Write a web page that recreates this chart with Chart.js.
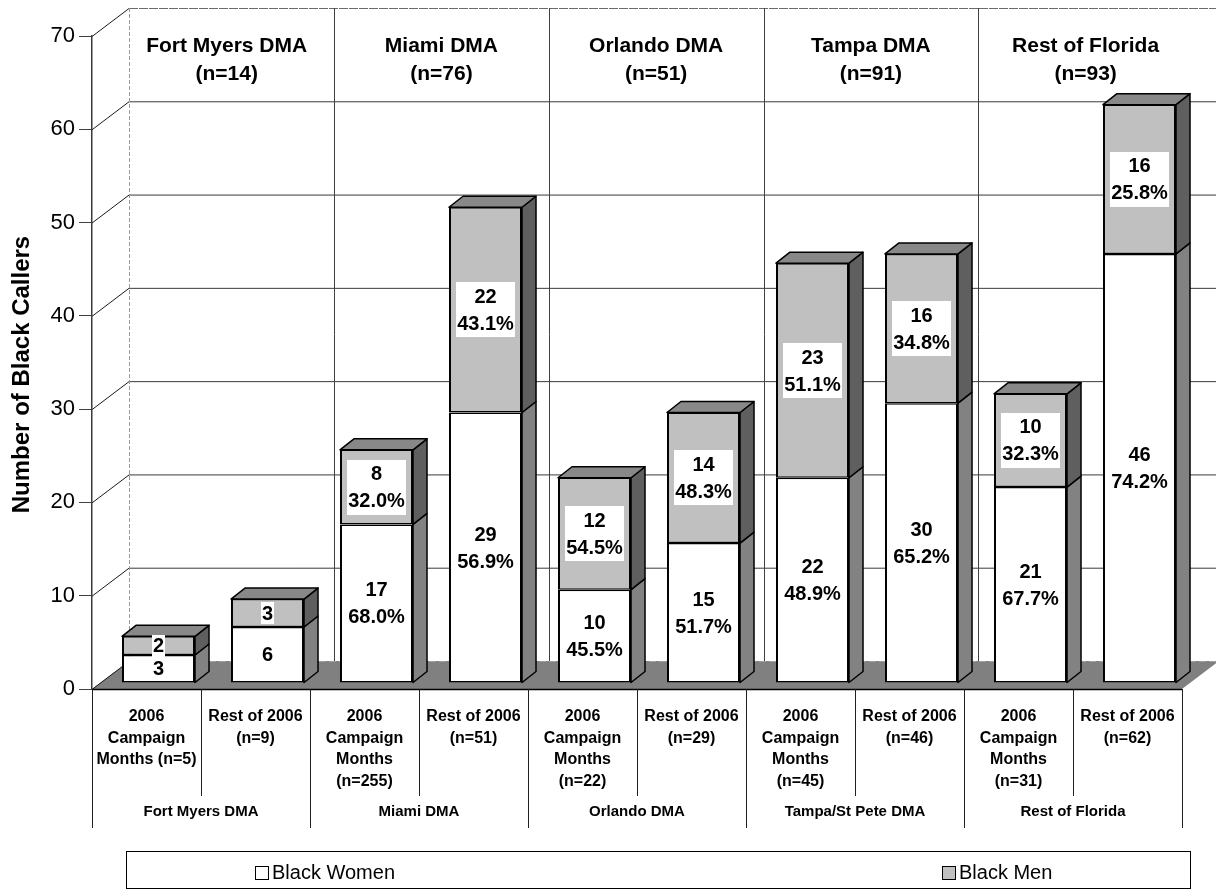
<!DOCTYPE html>
<html>
<head>
<meta charset="utf-8">
<title>Black Callers by DMA</title>
<script src="https://cdn.jsdelivr.net/npm/chart.js@4.4.1/dist/chart.umd.min.js"></script>
<style>
  html, body { margin: 0; padding: 0; background: #ffffff; }
  #wrap { width: 1216px; height: 890px; position: relative; }
</style>
</head>
<body>
<div id="wrap"><canvas id="chart"></canvas></div>
<script>
// ---- data ----
const categories = [
  ['2006', 'Campaign', 'Months (n=5)'], ['Rest of 2006', '(n=9)'],
  ['2006', 'Campaign', 'Months', '(n=255)'], ['Rest of 2006', '(n=51)'],
  ['2006', 'Campaign', 'Months', '(n=22)'], ['Rest of 2006', '(n=29)'],
  ['2006', 'Campaign', 'Months', '(n=45)'], ['Rest of 2006', '(n=46)'],
  ['2006', 'Campaign', 'Months', '(n=31)'], ['Rest of 2006', '(n=62)']
];
const groupNames = ['Fort Myers DMA', 'Miami DMA', 'Orlando DMA', 'Tampa/St Pete DMA', 'Rest of Florida'];
const regionHeaders = [
  ['Fort Myers DMA', '(n=14)'], ['Miami DMA', '(n=76)'], ['Orlando DMA', '(n=51)'],
  ['Tampa DMA', '(n=91)'], ['Rest of Florida', '(n=93)']
];
const blackWomen = [3, 6, 17, 29, 10, 15, 22, 30, 21, 46];
const blackMen   = [2, 3, 8, 22, 12, 14, 23, 16, 10, 16];
const showPercent = [false, false, true, true, true, true, true, true, true, true];
const seriesNames = ['Black Women', 'Black Men'];
const yMin = 0, yMax = 70, yStep = 10;
const yTitle = 'Number of Black Callers';

// ---- drawing constants ----
const FONT = '"Liberation Sans", Arial, Helvetica, sans-serif';
const WALL = { dx: 37, dy: -28 };        // floor depth: front edge -> back wall
const BAR_SHIFT = { dx: 12, dy: -6 };    // bar front faces sit slightly behind the floor edge
const BAR_DEPTH = { dx: 14, dy: -11 };   // bar side / top face depth
const FRONT_COLORS = ['#ffffff', '#c0c0c0'];
const SIDE_COLORS = ['#828282', '#5f5f5f'];
const TOP_COLOR = '#888888';

function line(ctx, x1, y1, x2, y2) {
  ctx.beginPath(); ctx.moveTo(x1, y1); ctx.lineTo(x2, y2); ctx.stroke();
}
function poly(ctx, pts, fill) {
  ctx.beginPath();
  ctx.moveTo(pts[0][0], pts[0][1]);
  for (let k = 1; k < pts.length; k++) ctx.lineTo(pts[k][0], pts[k][1]);
  ctx.closePath();
  ctx.fillStyle = fill; ctx.fill();
  ctx.stroke();
}
// slot boundary on the front edge for category index i (0..n)
function slotEdge(xs, i, n) {
  const half = (xs.getPixelForValue(1) - xs.getPixelForValue(0)) / 2;
  return i < n ? xs.getPixelForValue(i) - half : xs.getPixelForValue(n - 1) + half;
}
// projection of front-edge x positions onto the back wall for the group dividers
function backWallX(xFront) { return 28.7 + 0.985 * xFront; }

// floor, back wall, side-wall grid and region headers
const scenePlugin = {
  id: 'scene3d',
  beforeDraw(chart) {
    const { ctx, chartArea: a, scales: { x: xs, y: ys } } = chart;
    const n = chart.data.labels.length;
    const perGroup = n / groupNames.length;
    ctx.save();
    // floor
    ctx.fillStyle = '#808080';
    ctx.beginPath();
    ctx.moveTo(a.left, a.bottom); ctx.lineTo(a.right, a.bottom);
    ctx.lineTo(a.right + WALL.dx, a.bottom + WALL.dy);
    ctx.lineTo(a.left + WALL.dx, a.bottom + WALL.dy);
    ctx.closePath(); ctx.fill();

    // gridlines on side wall and back wall
    ys.ticks.forEach(t => {
      const yf = ys.getPixelForValue(t.value);
      const yb = yf + WALL.dy;
      ctx.setLineDash([]);
      ctx.strokeStyle = '#1a1a1a'; ctx.lineWidth = 1;
      line(ctx, a.left, yf + 0.5, a.left + WALL.dx, yb + 0.5);
      if (t.value === yMin) {
        ctx.strokeStyle = '#a0a0a0'; ctx.setLineDash([7, 3]);
      } else if (t.value === yMax) {
        ctx.strokeStyle = '#6a6a6a'; ctx.setLineDash([9, 1]);
      } else {
        ctx.strokeStyle = '#3a3a3a';
      }
      line(ctx, a.left + WALL.dx, yb + 0.5, a.right + WALL.dx, yb + 0.5);
    });
    // back wall left edge
    ctx.setLineDash([4, 2]); ctx.strokeStyle = '#9a9a9a';
    line(ctx, a.left + WALL.dx + 0.5, a.top + WALL.dy, a.left + WALL.dx + 0.5, a.bottom + WALL.dy);
    // group dividers on the back wall
    ctx.setLineDash([]); ctx.strokeStyle = '#404040';
    for (let g = 1; g < groupNames.length; g++) {
      const bx = Math.round(backWallX(slotEdge(xs, g * perGroup, n))) + 0.5;
      line(ctx, bx, a.top + WALL.dy, bx, a.bottom + WALL.dy);
    }
    // region headers
    ctx.fillStyle = '#000'; ctx.textAlign = 'center'; ctx.textBaseline = 'middle';
    ctx.font = 'bold 21px ' + FONT;
    regionHeaders.forEach((h, g) => {
      const cx = backWallX((slotEdge(xs, g * perGroup, n) + slotEdge(xs, (g + 1) * perGroup, n)) / 2);
      h.forEach((txt, k) => ctx.fillText(txt, cx, a.top + WALL.dy + 38 + k * 28));
    });
    ctx.restore();
  },
  beforeDatasetsDraw(chart) {
    const ctx = chart.ctx;
    ctx.save();
    ctx.translate(BAR_SHIFT.dx, BAR_SHIFT.dy);
    const metas = chart.getSortedVisibleDatasetMetas();
    ctx.strokeStyle = '#000'; ctx.lineWidth = 1.5; ctx.lineJoin = 'round';
    metas.forEach((meta, di) => {
      meta.data.forEach(el => {
        const { x, y, base, width } = el.getProps(['x', 'y', 'base', 'width'], true);
        const l = x - width / 2, r = x + width / 2;
        const top = Math.min(y, base), bot = Math.max(y, base);
        poly(ctx, [[r, top], [r + BAR_DEPTH.dx, top + BAR_DEPTH.dy],
                   [r + BAR_DEPTH.dx, bot + BAR_DEPTH.dy], [r, bot]], SIDE_COLORS[meta.index]);
        if (di === metas.length - 1) {
          poly(ctx, [[l, top], [l + BAR_DEPTH.dx, top + BAR_DEPTH.dy],
                     [r + BAR_DEPTH.dx, top + BAR_DEPTH.dy], [r, top]], TOP_COLOR);
        }
      });
    });
  },
  afterDatasetsDraw(chart) {
    const ctx = chart.ctx;
    ctx.restore();
    // value labels
    ctx.save();
    ctx.translate(BAR_SHIFT.dx, BAR_SHIFT.dy);
    ctx.font = 'bold 20px ' + FONT;
    ctx.textAlign = 'center'; ctx.textBaseline = 'middle';
    const datasets = chart.data.datasets;
    chart.getSortedVisibleDatasetMetas().forEach(meta => {
      const ds = datasets[meta.index];
      meta.data.forEach((el, i) => {
        const v = ds.data[i];
        const total = datasets.reduce((s, d) => s + d.data[i], 0);
        const lines = [String(v)];
        if (showPercent[i]) lines.push((v / total * 100).toFixed(1) + '%');
        const { x, y, base } = el.getProps(['x', 'y', 'base'], true);
        const cy = (y + base) / 2;
        const lh = 27;
        const w = Math.max(...lines.map(s => ctx.measureText(s).width)) + 2;
        const h = (lines.length - 1) * lh + 22 + (lines.length > 1 ? 6 : 0);
        ctx.fillStyle = '#ffffff';
        ctx.fillRect(Math.round(x - w / 2), Math.round(cy - h / 2), Math.round(w), Math.round(h));
        ctx.fillStyle = '#000000';
        lines.forEach((s, k) => ctx.fillText(s, x, cy - (lines.length - 1) * lh / 2 + k * lh + 1));
      });
    });
    ctx.restore();
  },
  afterDraw(chart) {
    const { ctx, chartArea: a, scales: { x: xs } } = chart;
    const n = chart.data.labels.length;
    const perGroup = n / groupNames.length;
    ctx.save();
    // category table under the floor
    ctx.strokeStyle = '#000'; ctx.lineWidth = 1.5;
    line(ctx, a.left, a.bottom + 0.5, a.right, a.bottom + 0.5);
    ctx.lineWidth = 1; ctx.strokeStyle = '#202020';
    for (let i = 0; i <= n; i++) {
      const bx = Math.round(slotEdge(xs, i, n)) + 0.5;
      const isGroupEdge = i % perGroup === 0;
      line(ctx, bx, a.bottom, bx, a.bottom + (isGroupEdge ? 139 : 107));
    }
    ctx.fillStyle = '#000'; ctx.textAlign = 'center'; ctx.textBaseline = 'middle';
    ctx.font = 'bold 16px ' + FONT;
    chart.data.labels.forEach((lab, i) => {
      const cx = xs.getPixelForValue(i);
      lab.forEach((s, k) => ctx.fillText(s, cx, a.bottom + 28 + k * 21.5));
    });
    ctx.font = 'bold 15px ' + FONT;
    groupNames.forEach((g, gi) => {
      const cx = (slotEdge(xs, gi * perGroup, n) + slotEdge(xs, (gi + 1) * perGroup, n)) / 2;
      ctx.fillText(g, cx, a.bottom + 123);
    });

    // y axis title
    ctx.save();
    ctx.translate(22, (a.top + a.bottom) / 2 + 12);
    ctx.rotate(-Math.PI / 2);
    ctx.font = 'bold 24px ' + FONT;
    ctx.fillText(yTitle, 0, 0);
    ctx.restore();

    // legend
    const lg = { x: 126, y: 851, w: 1064, h: 37 };
    ctx.strokeStyle = '#000'; ctx.lineWidth = 1;
    ctx.strokeRect(lg.x + 0.5, lg.y + 0.5, lg.w, lg.h);
    const itemX = [255, 942];
    ctx.font = '20px ' + FONT; ctx.textAlign = 'left';
    chart.data.datasets.forEach((ds, k) => {
      const sx = itemX[k], sy = lg.y + 15;
      ctx.fillStyle = ds.backgroundColor;
      ctx.fillRect(sx + 0.5, sy + 0.5, 13, 13);
      ctx.strokeRect(sx + 0.5, sy + 0.5, 13, 13);
      ctx.fillStyle = '#000';
      ctx.fillText(ds.label, sx + 17, sy + 7.5);
    });
    ctx.restore();
  }
};

new Chart(document.getElementById('chart'), {
  type: 'bar',
  data: {
    labels: categories,
    datasets: [
      { label: seriesNames[0], data: blackWomen, backgroundColor: FRONT_COLORS[0] },
      { label: seriesNames[1], data: blackMen, backgroundColor: FRONT_COLORS[1] }
    ]
  },
  options: {
    responsive: true,
    maintainAspectRatio: false,
    animation: false,
    events: [],
    layout: { padding: { top: 36, right: 34, left: 0, bottom: 0 } },
    datasets: {
      bar: {
        categoryPercentage: 1,
        barPercentage: 0.67,
        borderColor: '#000000',
        borderWidth: { left: 2, right: 2, top: 1.5, bottom: 1.5 },
        borderSkipped: false
      }
    },
    plugins: {
      legend: { display: false },
      tooltip: { enabled: false }
    },
    scales: {
      x: {
        stacked: true,
        ticks: { display: false },
        grid: { display: false },
        border: { display: false },
        afterFit: s => { s.height = 201; }
      },
      y: {
        stacked: true,
        min: yMin, max: yMax,
        ticks: {
          stepSize: yStep,
          color: '#000',
          padding: 4,
          font: { family: FONT, size: 22 }
        },
        grid: { drawOnChartArea: false, drawTicks: true, tickLength: 13, color: '#404040' },
        border: { display: true, color: '#3a3a3a', width: 1.5, dash: [5, 2] },
        afterFit: s => { s.width = 92; }
      }
    }
  },
  plugins: [scenePlugin]
});
</script>
</body>
</html>
